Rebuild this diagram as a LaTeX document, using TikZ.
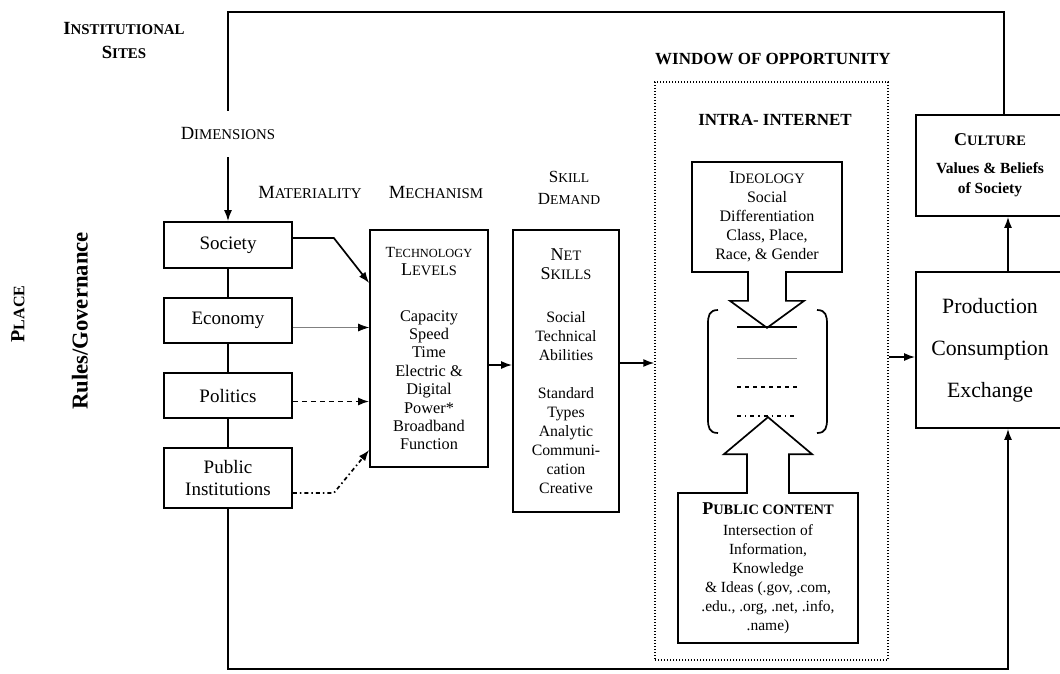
\documentclass[tikz,border=0pt]{standalone}
\usepackage{fontspec}
\setmainfont{Liberation Serif}
\usetikzlibrary{arrows.meta}
\makeatletter
\newcommand\fsc[2]{#1{\fontsize{\strip@pt\dimexpr0.8\dimexpr\f@size pt\relax\relax}{\f@baselineskip}\selectfont #2}}
\makeatother
\newcommand\hd[1]{{\fontsize{18}{22}\selectfont #1}}
\tikzset{>={Latex[length=11pt,width=8pt]},
  every node/.style={align=center, font=\fontsize{19}{22}\selectfont},
  head/.style={font=\fontsize{18.6}{22}\selectfont},
  title/.style={font=\bfseries\fontsize{17}{20}\selectfont},
  dimbox/.style={draw, minimum width=128pt, inner sep=2pt},
  bigbox/.style={draw, inner sep=1pt},
  dotbox/.style={draw, line width=1.3pt, dash pattern=on 1.3pt off 1.7pt},
  faint/.style={line width=0.7pt, black!50, -{Latex[length=11pt,width=8pt,color=black]}},
  dashln/.style={dash pattern=on 5pt off 4pt},
  dashdotln/.style={dash pattern=on 4pt off 3pt on 1.5pt off 3pt}
}

\begin{document}
\begin{tikzpicture}[x=1pt,y=-1pt,line width=1.7pt]
    \useasboundingbox (0,0) rectangle (1060,673);
    \clip (0,0) rectangle (1060,673);

    \node[font=\bfseries\fontsize{18.6}{24}\selectfont] (sites) at (124,40) {\fsc{I}{NSTITUTIONAL}\\\fsc{S}{ITES}};
    \node[head] (dim) at (228,133) {\fsc{D}{IMENSIONS}};
    \node[head] (matl) at (310,192) {\fsc{M}{ATERIALITY}};
    \node[head] (mech) at (436,192) {\fsc{M}{ECHANISM}};
    \node[font=\fontsize{17}{22}\selectfont] (skill) at (569,188) {\fsc{S}{KILL}\\\fsc{D}{EMAND}};
    \node[title] (wintitle) at (773,59) {WINDOW OF OPPORTUNITY};
    \node[title] (intra) at (775,120) {INTRA- INTERNET};
    \node[rotate=90, font=\bfseries\fontsize{20}{24}\selectfont] (place) at (18,314) {\fsc{P}{LACE}};
    \node[rotate=90, font=\bfseries\fontsize{22.7}{26}\selectfont] (rules) at (80,321) {Rules/Governance};

    \foreach \n/\y/\h/\t in {soc/245/46/Society, eco/320.5/45/Economy, pol/395.5/45/Politics, pub/478/60/{Public\\Institutions}}{
        \node[dimbox, minimum height=\h pt] (\n) at (228,\y) {\t};
    }
    \draw (soc) -- (eco) (eco) -- (pol) (pol) -- (pub);

    \node[bigbox, minimum width=118pt, minimum height=237pt, font=\fontsize{16.3}{18.4}\selectfont] (tech) at (429,348.5)
        {{\fontsize{15.5}{18}\selectfont\fsc{T}{ECHNOLOGY}}\\\hd{\fsc{L}{EVELS}}\\[27pt]Capacity\\Speed\\Time\\Electric \&\\Digital\\Power*\\Broadband\\Function};
    \node[bigbox, minimum width=106pt, minimum height=282pt, font=\fontsize{15.8}{19}\selectfont] (net) at (566,371)
        {\hd{\fsc{N}{ET}}\\\hd{\fsc{S}{KILLS}}\\[24pt]Social\\Technical\\Abilities\\[19pt]Standard\\Types\\Analytic\\Communi-\\cation\\Creative};
    \node[dotbox, minimum width=233pt, minimum height=578pt] (win) at (771.5,371) {};
    \node[bigbox, minimum width=150pt, minimum height=110pt, font=\fontsize{16}{19}\selectfont] (ideo) at (767,217)
        {\hd{\fsc{I}{DEOLOGY}}\\Social\\Differentiation\\Class, Place,\\Race, \& Gender};
    \node[bigbox, minimum width=180pt, minimum height=150pt, font=\fontsize{15.5}{19}\selectfont] (pubc) at (768,568)
        {\hd{\bfseries\fsc{P}{UBLIC CONTENT}}\\[2pt]Intersection of\\Information,\\Knowledge\\\& Ideas (.gov, .com,\\.edu., .org, .net, .info,\\.name)};
    \node[bigbox, minimum width=148pt, minimum height=101pt, font=\bfseries\fontsize{15.5}{20}\selectfont] (cult) at (990,165.5)
        {\hd{\fsc{C}{ULTURE}}\\[8pt]Values \& Beliefs\\of Society};
    \node[bigbox, minimum width=148pt, minimum height=156pt, font=\fontsize{21.8}{42}\selectfont] (prod) at (990,350)
        {Production\\Consumption\\Exchange};

    \coordinate (topr) at (1004,12);
    \coordinate (botr) at (1008,669);
    \draw[->, shorten <=14pt] (dim) -- (soc);
    \draw[shorten <=12pt] (dim.north) |- (topr) -- (topr |- cult.north);
    \draw[->] (pub.south) |- (botr) -- (botr |- prod.south);
    \draw[->] (botr |- prod.north) -- (botr |- cult.south);

    \draw[->] ([yshift=7pt]soc.east) -- ++(41,0) -- ([yshift=65.5pt]tech.west);
    \draw[faint] ([yshift=-7pt]eco.east) -- ([yshift=-7pt]eco.east -| tech.west);
    \draw[->, dashln] ([yshift=-6pt]pol.east) -- ([yshift=-6pt]pol.east -| tech.west);
    \draw[->, dashdotln] ([yshift=-15pt]pub.east) -- ++(41,0) -- ([yshift=-101.5pt]tech.west);
    \draw[->] ([yshift=-16.5pt]tech.east) -- ([yshift=-16.5pt]tech.east -| net.west);
    \draw[->] ([yshift=8pt]net.east) -- ([yshift=8pt]net.east -| win.west);
    \draw[->] ([yshift=-7pt]prod.west -| win.east) -- ([yshift=-7pt]prod.west);

    \draw (718,310) .. controls (709,310) and (708,316) .. (708,324) -- (708,419) .. controls (708,427) and (709,433) .. (718,433);
    \draw (817,310) .. controls (826,310) and (827,316) .. (827,324) -- (827,419) .. controls (827,427) and (826,433) .. (817,433);
    \draw[line width=2.2pt] (737,327) -- (797,327);
    \draw[line width=0.7pt, black!45] (737,358) -- (797,358);
    \draw[line width=1.3pt, dash pattern=on 4pt off 4pt] (737,387) -- (797,387);
    \draw[line width=1.3pt, dash pattern=on 4pt off 4pt on 1.3pt off 4pt] (737,416) -- (797,416);

    \fill[white] ([xshift=-18.3pt,yshift=1.7pt]ideo.south) rectangle ([xshift=18.3pt,yshift=-1.7pt]ideo.south);
    \draw ([xshift=-19pt]ideo.south) -- ++(0,28) -- ++(-18,0) -- ++(37,27) -- ++(37,-27) -- ++(-18,0) -- ++(0,-28);
    \fill[white] ([xshift=-20.3pt,yshift=1.7pt]pubc.north) rectangle ([xshift=20.3pt,yshift=-1.7pt]pubc.north);
    \draw ([xshift=-21pt]pubc.north) -- ++(0,-38) -- ++(-23,0) -- ++(44,-37) -- ++(44,37) -- ++(-23,0) -- ++(0,38);
\end{tikzpicture}
\end{document}
